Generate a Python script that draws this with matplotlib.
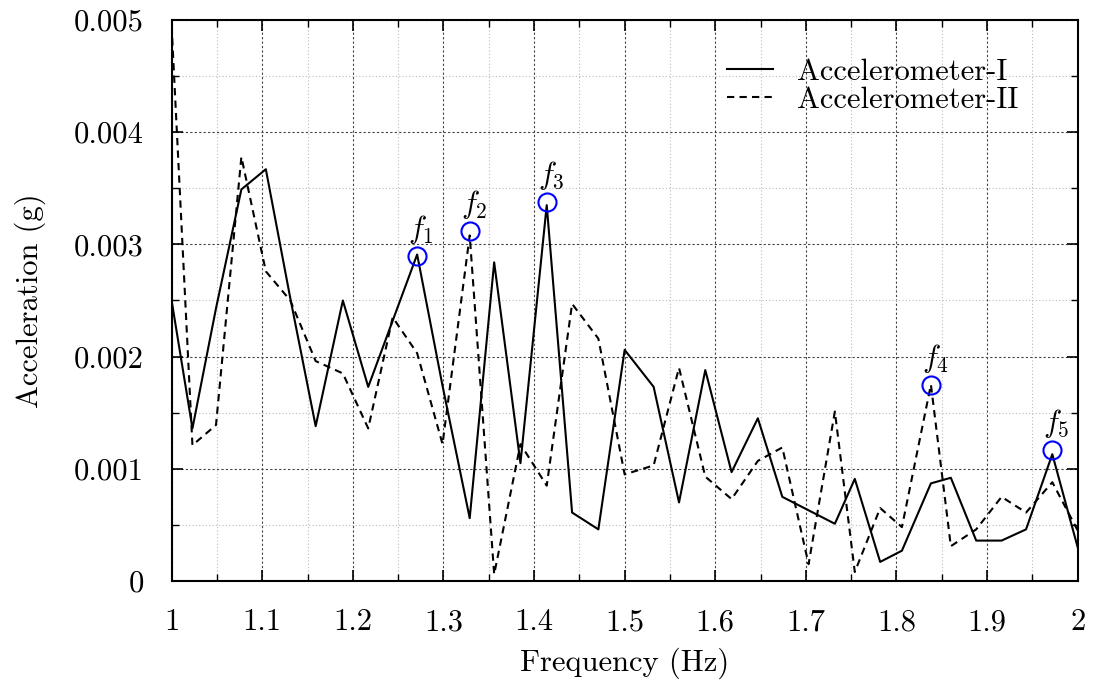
import matplotlib
matplotlib.use("Agg")
import matplotlib.pyplot as plt
import numpy as np

plt.rcParams['font.family'] = 'serif'
plt.rcParams['font.serif'] = ['cmr10', 'DejaVu Serif']
plt.rcParams['mathtext.fontset'] = 'cm'
plt.rcParams['axes.formatter.use_mathtext'] = True

# frekuensi (Hz)
freq = [1.000, 1.023, 1.049, 1.077, 1.104, 1.131, 1.159, 1.189, 1.217, 1.244,
        1.271, 1.299, 1.329, 1.356, 1.385, 1.414, 1.442, 1.471, 1.500, 1.532,
        1.560, 1.589, 1.618, 1.647, 1.674, 1.703, 1.732, 1.754, 1.782, 1.806,
        1.838, 1.860, 1.888, 1.916, 1.943, 1.972, 2.000]

acc_1 = [0.00250, 0.00136, 0.00243, 0.00349, 0.00367, 0.00252, 0.00138, 0.00250,
         0.00173, 0.00232, 0.00291, 0.00174, 0.00056, 0.00284, 0.00105, 0.00335,
         0.00061, 0.00046, 0.00206, 0.00173, 0.00070, 0.00188, 0.00097, 0.00145,
         0.00075, 0.00063, 0.00051, 0.00091, 0.00017, 0.00027, 0.00087, 0.00092,
         0.00036, 0.00036, 0.00046, 0.00113, 0.00030]

acc_2 = [0.00495, 0.00121, 0.00139, 0.00378, 0.00276, 0.00250, 0.00196, 0.00185,
         0.00136, 0.00235, 0.00203, 0.00122, 0.00308, 0.00006, 0.00122, 0.00085,
         0.00247, 0.00216, 0.00095, 0.00103, 0.00190, 0.00093, 0.00073, 0.00107,
         0.00119, 0.00015, 0.00151, 0.00008, 0.00065, 0.00048, 0.00175, 0.00031,
         0.00046, 0.00075, 0.00061, 0.00088, 0.00045]

# puncak yang ditandai
peak_f = [1.271, 1.329, 1.414, 1.838, 1.972]
peak_a = [0.00290, 0.00312, 0.00338, 0.00175, 0.00117]
peak_lbl = ['$f_1$', '$f_2$', '$f_3$', '$f_4$', '$f_5$']

xticks = [1, 1.1, 1.2, 1.3, 1.4, 1.5, 1.6, 1.7, 1.8, 1.9, 2]
xtick_lbl = ['1', '1.1', '1.2', '1.3', '1.4', '1.5', '1.6', '1.7', '1.8', '1.9', '2']
yticks = [0, 0.001, 0.002, 0.003, 0.004, 0.005]
ytick_lbl = ['0', '0.001', '0.002', '0.003', '0.004', '0.005']

fig = plt.figure(figsize=(10.93, 6.9), dpi=100)
ax = fig.add_axes([0.157, 0.158, 0.829, 0.813])

ax.plot(freq, acc_1, color='black', linestyle='-', lw=1.5, label='Accelerometer-I')
ax.plot(freq, acc_2, color='black', linestyle=(0, (3.5, 2.5)), lw=1.5, label='Accelerometer-II')
ax.plot(peak_f, peak_a, linestyle='none', marker='o', ms=13, mfc='none',
        mec='blue', mew=1.5)
for f, a, t in zip(peak_f, peak_a, peak_lbl):
    ax.annotate(t, (f, a), xytext=(3, 7), textcoords='offset points',
                ha='center', va='bottom', fontsize=22)

ax.set_xlim(1, 2)
ax.set_ylim(0, 0.005)
ax.set_xticks(xticks)
ax.set_xticklabels(xtick_lbl)
ax.set_yticks(yticks)
ax.set_yticklabels(ytick_lbl)
ax.set_xticks(np.arange(1.05, 2, 0.1), minor=True)
ax.set_yticks(np.arange(0.0005, 0.005, 0.001), minor=True)
ax.tick_params(which='both', direction='in', top=True, right=True, labelsize=22, pad=20)
ax.tick_params(which='major', length=8, width=1.2)
ax.tick_params(which='minor', length=5, width=1)
ax.grid(True, which='major', color='#444444', linestyle=(0, (2, 2)), lw=0.8)
ax.grid(True, which='minor', color='#bbbbbb', linestyle=(0, (1, 2)), lw=0.8)
for s in ax.spines.values():
    s.set_linewidth(1.5)

ax.set_xlabel('Frequency (Hz)', fontsize=22, labelpad=8)
ax.set_ylabel('Acceleration (g)', fontsize=22, labelpad=20)
ax.legend(loc='upper right', bbox_to_anchor=(0.965, 0.98), frameon=False, fontsize=22,
          handlelength=1.5, labelspacing=0.0, handletextpad=0.8)

fig.savefig('out.png', dpi=100)
